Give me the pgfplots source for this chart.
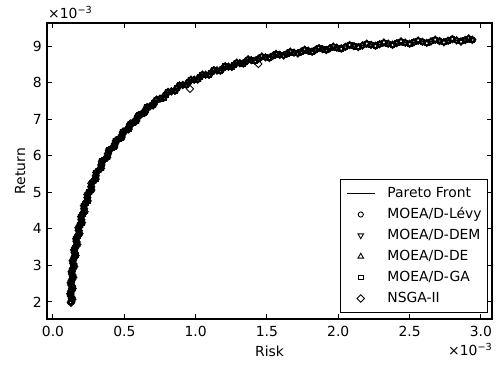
\documentclass[border=0pt]{standalone}
\usepackage{fontspec}
\setmainfont{DejaVu Sans}
\usepackage{pgfplots}
\pgfplotsset{compat=1.18}
\usepackage{pgfplotstable}
\pgfplotstableread{
s r
0.126 2.00
0.127 2.15
0.128 2.30
0.130 2.45
0.132 2.60
0.135 2.75
0.138 2.90
0.142 3.05
0.147 3.20
0.152 3.35
0.158 3.50
0.165 3.65
0.173 3.80
0.181 3.95
0.190 4.10
0.199 4.25
0.208 4.40
0.218 4.55
0.229 4.70
0.241 4.85
0.254 5.00
0.268 5.15
0.283 5.30
0.300 5.45
0.319 5.60
0.339 5.75
0.361 5.90
0.385 6.05
0.410 6.20
0.435 6.33
0.460 6.455
0.485 6.575
0.510 6.69
0.535 6.80
0.560 6.905
0.590 7.025
0.620 7.14
0.650 7.25
0.680 7.35
0.710 7.45
0.750 7.56
0.790 7.665
0.830 7.76
0.870 7.85
0.910 7.935
0.950 8.01
0.990 8.08
1.030 8.15
1.070 8.215
1.110 8.275
1.150 8.33
1.190 8.385
1.230 8.436
1.270 8.485
1.310 8.53
1.350 8.574
1.390 8.615
1.440 8.652
1.490 8.691
1.540 8.727
1.590 8.76
1.640 8.79
1.690 8.819
1.740 8.845
1.790 8.87
1.840 8.893
1.890 8.915
1.940 8.936
1.990 8.955
2.050 8.977
2.110 8.997
2.170 9.015
2.230 9.033
2.290 9.049
2.350 9.064
2.410 9.078
2.470 9.091
2.530 9.103
2.590 9.115
2.650 9.126
2.710 9.136
2.770 9.146
2.830 9.155
2.890 9.163
2.940 9.170
}\front
\pgfplotstableread{
s r
0.1355 2.075
0.138 2.375
0.1425 2.675
0.149 2.975
0.1585 3.2725
0.170 3.5725
0.1855 3.87
0.203 4.1675
0.221 4.4675
0.243 4.765
0.269 5.0625
0.299 5.36
0.3365 5.6575
0.3805 5.955
0.4298 6.2425
0.480 6.4925
0.530 6.7225
0.582 6.9425
0.6415 7.17
0.7015 7.375
0.776 7.586
0.855 7.7755
0.935 7.943
1.015 8.0855
1.0935 8.212
1.1735 8.325
1.2535 8.428
1.3335 8.519
1.4175 8.599
1.517 8.674
1.617 8.74
1.7165 8.797
1.8165 8.846
1.916 8.89
2.021 8.931
2.1405 8.971
2.2605 9.006
2.3805 9.036
2.5005 9.062
2.6205 9.085
2.7405 9.106
2.8605 9.124
}\frontb
\pgfplotstableread{
s r
0.121 2.225
0.124 2.525
0.130 2.825
0.138 3.125
0.148 3.425
0.162 3.73
0.179 4.03
0.197 4.335
0.217 4.635
0.241 4.94
0.269 5.245
0.303 5.545
0.344 5.85
0.392 6.15
0.442 6.42
0.492 6.66
0.543 6.88
0.600 7.11
0.660 7.33
0.726 7.535
0.806 7.745
0.887 7.925
0.967 8.08
1.047 8.218
1.128 8.34
1.208 8.448
1.288 8.546
1.368 8.634
1.464 8.712
1.564 8.784
1.664 8.845
1.765 8.898
1.865 8.944
1.965 8.985
2.080 9.027
2.200 9.064
2.320 9.096
2.440 9.124
2.560 9.149
2.680 9.171
2.800 9.19
2.915 9.206
}\frontc
\newcommand{\fs}{\fontsize{13.9bp}{16bp}\selectfont}
\begin{document}
\begin{tikzpicture}
\begin{axis}[
  scale only axis, width=445bp, height=296bp,
  xmin=-0.042, xmax=3.078, ymin=1.535, ymax=9.63,
  xtick={0,0.5,1,1.5,2,2.5,3}, ytick={2,3,4,5,6,7,8,9},
  scaled ticks=false,
  /pgf/number format/assume math mode=true,
  xticklabel={\pgfmathprintnumber[fixed,fixed zerofill,precision=1]{\tick}},
  xticklabel style={font=\fs, anchor=base, inner sep=0pt, yshift=-17.7bp},
  yticklabel style={font=\fs, anchor=east, inner sep=0pt, xshift=-5bp},
  tick align=inside, xtick pos=both, ytick pos=both,
  major tick length=5bp, minor tick num=0,
  tick style={black, line width=1bp},
  axis line style={line width=1.1bp},
  xlabel={Risk}, ylabel={Return},
  xlabel style={font=\fs, at={(axis description cs:0.5,-0.125)}, anchor=base, inner sep=0pt},
  ylabel style={font=\fs, at={(axis description cs:-0.0494,0.5)}, anchor=base, inner sep=0pt},
  legend cell align=left,
  legend image code/.code={\draw[mark repeat=2,mark phase=2,#1] plot coordinates {(0bp,0bp) (14bp,0bp) (28bp,0bp)};},
  legend style={at={(rel axis cs:1,0)}, anchor=south east, xshift=-4bp, yshift=6bp,
    draw=black, line width=1bp, inner xsep=6bp, inner ysep=7bp,
    row sep=7bp, column sep=12bp, font=\fs,
    nodes={inner sep=0pt, text height=10.5bp, text depth=3.5bp}},
  every axis plot/.append style={black},
  mcirc/.style={only marks, mark=o, mark size=2.6bp, mark options={line width=0.9bp, fill=none}},
  mtdown/.style={only marks, mark=triangle, mark size=3.2bp, mark options={rotate=180, line width=0.9bp, fill=none}},
  mtup/.style={only marks, mark=triangle, mark size=3.2bp, mark options={line width=0.9bp, fill=none}},
  msq/.style={only marks, mark=square, mark size=2.4bp, mark options={line width=0.9bp, fill=none}},
  mdia/.style={only marks, mark=square, mark size=2.6bp, mark options={rotate=45, line width=0.9bp, fill=none}},
]
\addplot[black, line width=1.2bp, no marks] table[x=s,y=r] {\front};
\addlegendentry{Pareto Front}
\addplot[mcirc] table[x=s,y=r] {\front};
\addlegendentry{MOEA/D-Lévy}
\addplot[mtdown] table[x=s,y=r] {\frontb};
\addlegendentry{MOEA/D-DEM}
\addplot[mtup] table[x=s,y=r] {\frontc};
\addlegendentry{MOEA/D-DE}
\addplot[msq] table[x=s,y=r] {\frontb};
\addlegendentry{MOEA/D-GA}
\addplot[mdia] table[x=s,y=r] {\front};
\addlegendentry{NSGA-II}
\addplot[mcirc, forget plot] table[x=s,y=r] {\frontb};
\addplot[mcirc, forget plot] table[x=s,y=r] {\frontc};
\addplot[mtdown, forget plot] table[x=s,y=r] {\front};
\addplot[mtdown, forget plot] table[x=s,y=r] {\frontc};
\addplot[mtup, forget plot] table[x=s,y=r] {\frontb};
\addplot[mtup, forget plot] table[x=s,y=r] {\front};
\addplot[msq, forget plot] table[x=s,y=r] {\front};
\addplot[msq, forget plot] table[x=s,y=r] {\frontc};
\addplot[mdia, forget plot] table[x=s,y=r] {\frontb};
\addplot[mdia, forget plot] table[x=s,y=r] {\frontc};
\addplot[mdia, forget plot] coordinates {(0.96,7.83) (1.44,8.51) (0.126,1.98)};
\end{axis}
\node[anchor=base west, inner sep=0pt, font=\fs] at ([xshift=1bp,yshift=4.7bp]current axis.north west) {×10\raisebox{5bp}{\fontsize{9.7bp}{10bp}\selectfont −3}};
\node[anchor=base east, inner sep=0pt, font=\fs] at ([yshift=-36bp]current axis.south east) {×10\raisebox{5bp}{\fontsize{9.7bp}{10bp}\selectfont −3}};
\pgfresetboundingbox
\path[use as bounding box] ([xshift=-47bp,yshift=-46bp]current axis.south west) rectangle ([xshift=5bp,yshift=23bp]current axis.north east);
\end{tikzpicture}
\end{document}
